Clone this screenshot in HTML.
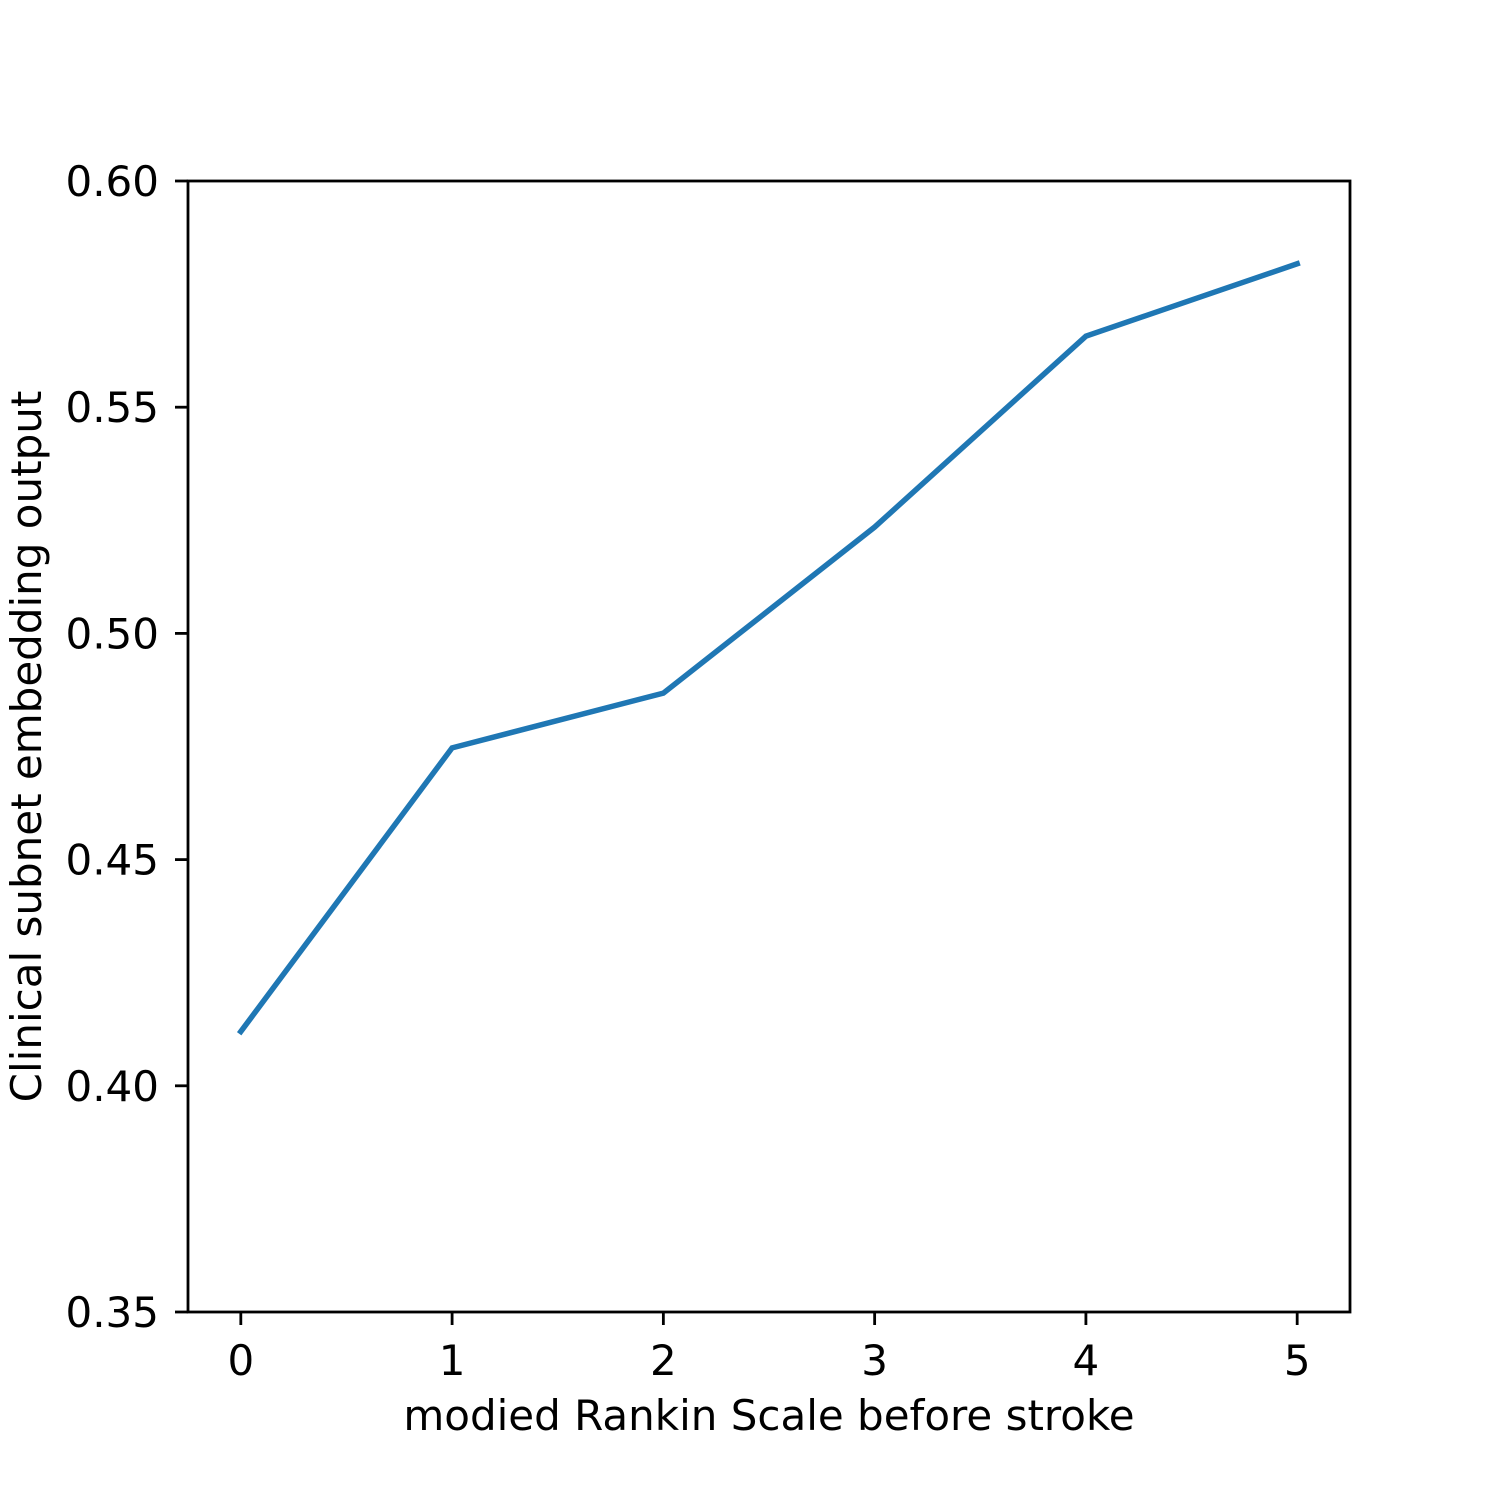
<!DOCTYPE html>
<html><head><meta charset="utf-8"><style>
html,body{margin:0;padding:0;background:#fff;}
svg{display:block;font-family:"DejaVu Sans","Liberation Sans",sans-serif;}
</style></head><body>
<svg id="chart" width="1500" height="1500" viewBox="0 0 1500 1500"></svg>
<script>
const categories = [0, 1, 2, 3, 4, 5];
const seriesValues = [0.412, 0.4747, 0.4868, 0.5235, 0.5657, 0.5817];
const yTicks = [0.35, 0.40, 0.45, 0.50, 0.55, 0.60];
const yTickLabels = ["0.35", "0.40", "0.45", "0.50", "0.55", "0.60"];
const xTicks = [0, 1, 2, 3, 4, 5];

const L = 188, R = 1350, T = 181, B = 1312;
const xMin = -0.25, xMax = 5.25, yMin = 0.35, yMax = 0.60;
const sx = v => L + (v - xMin) / (xMax - xMin) * (R - L);
const sy = v => B - (v - yMin) / (yMax - yMin) * (B - T);
const NS = "http://www.w3.org/2000/svg";
const svg = document.getElementById("chart");
function mk(tag, attrs, parent) {
  const e = document.createElementNS(NS, tag);
  for (const k in attrs) e.setAttribute(k, attrs[k]);
  (parent || svg).appendChild(e);
  return e;
}

const line = mk("polyline", {
  points: categories.map((c, i) => sx(c) + "," + sy(seriesValues[i])).join(" "),
  fill: "none", stroke: "#1f77b4", "stroke-width": 5.5, "stroke-linecap": "square"
});



const frame = mk("rect", {x: L, y: T, width: R - L, height: B - T, fill: "none", stroke: "#000", "stroke-width": 2.8});



yTicks.forEach((v, i) => {
  const t = mk("line", {x1: L - 13, x2: L, y1: sy(v), y2: sy(v), stroke: "#000", "stroke-width": 2.8});
  
  
  const lb = mk("text", {x: L - 29, y: sy(v) + 15, "text-anchor": "end", "font-size": 42, fill: "#000"});
  lb.textContent = yTickLabels[i];
  
  
});
xTicks.forEach(v => {
  const t = mk("line", {x1: sx(v), x2: sx(v), y1: B, y2: B + 13, stroke: "#000", "stroke-width": 2.8});
  
  
  const lb = mk("text", {x: sx(v), y: B + 63, "text-anchor": "middle", "font-size": 42, fill: "#000"});
  lb.textContent = String(v);
  
  
});

const xt = mk("text", {x: (L + R) / 2, y: 1430, "text-anchor": "middle", "font-size": 42, fill: "#000"});
xt.textContent = "modied Rankin Scale before stroke";



const yt = mk("text", {x: 0, y: 0, transform: "translate(41," + ((T + B) / 2) + ") rotate(-90)", "text-anchor": "middle", "font-size": 42, fill: "#000"});
yt.textContent = "Clinical subnet embedding output";


</script>
</body></html>
